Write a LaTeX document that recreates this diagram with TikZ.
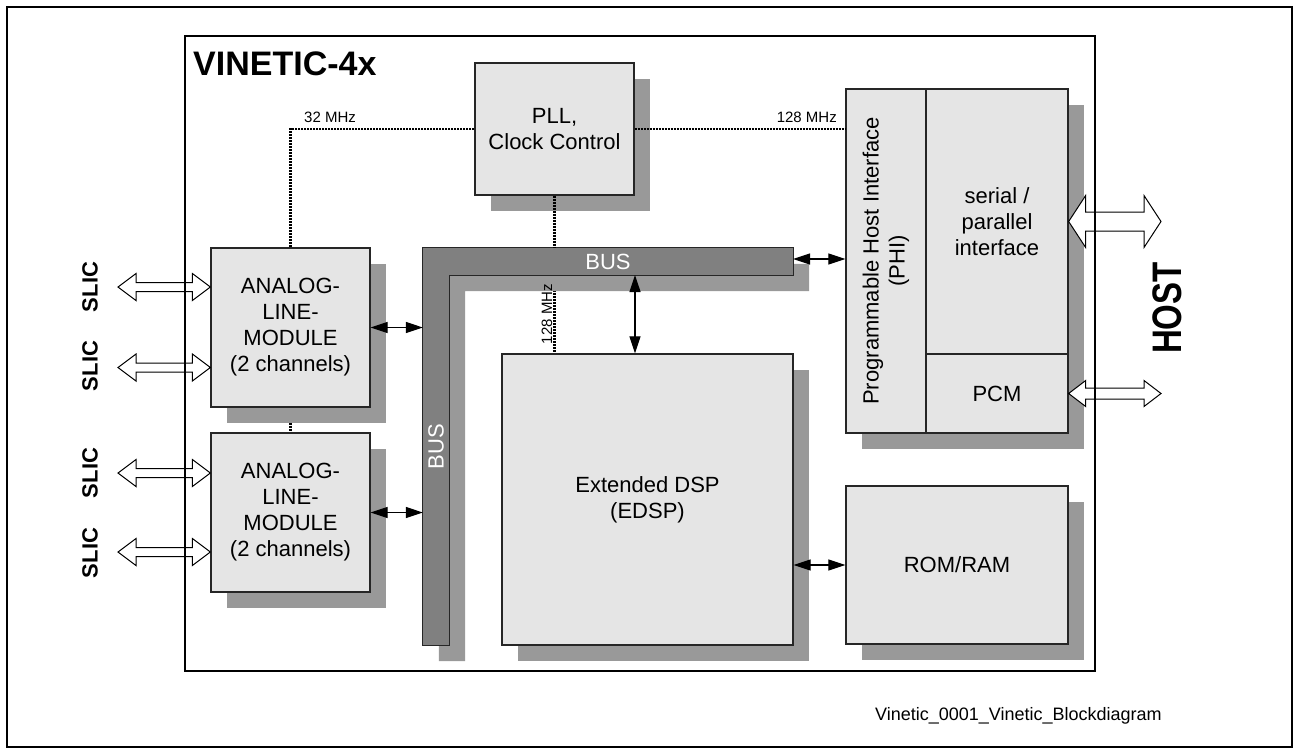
\documentclass[tikz,border=0pt]{standalone}
\usepackage{fontspec}
\setmainfont{Liberation Sans}
\usetikzlibrary{arrows.meta,shadows,calc}
\pgfdeclarelayer{bg}
\pgfsetlayers{bg,main}
\newcommand\fatarrow[5]{%
  \draw[fatarr] let \p1=(#1), \p2=(#2) in
   (\x1,\y1) -- (\x1+#5pt,\y1+#3pt) -- (\x1+#5pt,\y1+#4pt) -- (\x2-#5pt,\y2+#4pt) -- (\x2-#5pt,\y2+#3pt) -- (\x2,\y2)
   -- (\x2-#5pt,\y2-#3pt) -- (\x2-#5pt,\y2-#4pt) -- (\x1+#5pt,\y1-#4pt) -- (\x1+#5pt,\y1-#3pt) -- cycle;}
\begin{document}
\begin{tikzpicture}[x=1pt,y=-1pt,
  blk/.style={draw=black!85, line width=1.3pt, fill=black!10, inner sep=0pt, align=center,
    font=\fontsize{22}{26}\selectfont},
  shad/.style={drop shadow={shadow xshift=16pt, shadow yshift=-16pt, fill=black!40, opacity=1}},
  clk/.style={line width=2.4pt, dash pattern=on 2pt off 1pt},
  sarr/.style={{Triangle[length=17pt,width=11pt]}-{Triangle[length=17pt,width=11pt]}, line width=1.2pt},
  fatarr/.style={draw=black, fill=white, line width=1pt, line join=miter},
  small/.style={font=\fontsize{15}{18}\selectfont, inner sep=0pt},
  slic/.style={font=\bfseries\fontsize{22}{26}\selectfont, rotate=90, inner sep=0pt},
  bustext/.style={text=white, font=\fontsize{22}{26}\selectfont, inner sep=0pt}
]
\useasboundingbox (0,0) rectangle (1299,755);

% bus (invisible name nodes)
\node[inner sep=0pt, minimum width=370pt, minimum height=27pt] (bush) at (608,261.5) {};
\node[inner sep=0pt, minimum width=26pt, minimum height=397pt] (busv) at (436,446.5) {};
\fill[black!40, transform canvas={xshift=16pt, yshift=-16pt}] (bush.north west) -- (bush.north east) -- (bush.south east)
  -- (bush.south -| busv.east) -- (busv.south east) -- (busv.south west) -- cycle;
\draw[fill=black!50, draw=black!85, line width=1.3pt] (bush.north west) -- (bush.north east) -- (bush.south east)
  -- (bush.south -| busv.east) -- (busv.south east) -- (busv.south west) -- cycle;
\node[bustext] at (bush) {BUS};
\node[bustext, rotate=90] at (busv) {BUS};

% blocks
\node[blk, shad, minimum width=159pt, minimum height=132pt] (pll) at (554.5,129) {PLL,\\Clock Control};
\node[blk, shad, minimum width=159pt, minimum height=159pt] (alm1) at (290.5,327.5) {ANALOG-\\LINE-\\MODULE\\(2 channels)};
\node[blk, shad, minimum width=159pt, minimum height=159pt] (alm2) at (290.5,512.5) {ANALOG-\\LINE-\\MODULE\\(2 channels)};
\node[blk, shad, minimum width=291pt, minimum height=291pt] (edsp) at (647.5,499.5) {Extended DSP\\(EDSP)};
\node[blk, shad, minimum width=222pt, minimum height=158pt] (rom) at (957,565) {ROM/RAM};
\node[blk, shad, minimum width=222pt, minimum height=344pt] (phiall) at (957,261) {};
\node[blk, minimum width=80pt, minimum height=344pt] (phi) at (886,261) {};
\node[align=center, rotate=90, inner sep=0pt, font=\fontsize{22}{26}\selectfont] at (phi) {Programmable Host Interface\\(PHI)};
\node[blk, minimum width=142pt, minimum height=265pt] (sp) at (997,221.5) {serial /\\parallel\\interface};
\node[blk, minimum width=142pt, minimum height=79pt] (pcm) at (997,393.5) {PCM};

% clock lines
\begin{pgfonlayer}{bg}
\draw[clk] (alm1.south) -- (alm2.north);
\draw[clk] (bush.south -| pll.south) -- (edsp.north -| pll.south);
\end{pgfonlayer}
\draw[clk] (pll.west) -| (alm1.north);
\draw[clk] (pll.east) -- (pll.east -| phi.west);
\draw[clk] (pll.south) -- (bush.north -| pll.south);
\node[small, anchor=base west] at (304,122) {32 MHz};
\node[small, anchor=base east] at (837,122) {128 MHz};
\node[small, anchor=base, rotate=90] at (552,314) {128 MHz};

% data arrows
\draw[sarr] (alm1.east) -- (alm1.east -| busv.west);
\draw[sarr] (alm2.east) -- (alm2.east -| busv.west);
\coordinate (be) at (635,275);
\draw[sarr] (be) -- (be |- edsp.north);
\coordinate (bp) at (793,259);
\draw[sarr] (bp) -- (bp -| phi.west);
\draw[sarr] (rom.west -| edsp.east) -- (rom.west);

% fat arrows
\coordinate (s1) at (118,287);
\coordinate (s2) at (118,367.5);
\coordinate (s3) at (118,473);
\coordinate (s4) at (118,552);
\fatarrow{s1}{alm1.west |- s1}{13.5}{4.5}{18}
\fatarrow{s2}{alm1.west |- s2}{13.5}{4.5}{18}
\fatarrow{s3}{alm2.west |- s3}{13.5}{4.5}{18}
\fatarrow{s4}{alm2.west |- s4}{13.5}{4.5}{18}
\coordinate (h1) at (1161,221.5);
\fatarrow{sp.east}{h1}{26}{9.5}{17}
\coordinate (p1) at (1161,393.5);
\fatarrow{pcm.east}{p1}{13}{5.5}{17}

% labels
\node[slic] at (90,287) {SLIC};
\node[slic] at (90,366) {SLIC};
\node[slic] at (90,473) {SLIC};
\node[slic] at (90,553) {SLIC};
\node[rotate=90, inner sep=0pt, font=\bfseries\fontsize{33}{36}\selectfont] at (1167,308) {\scalebox{1}[1.25]{HOST}};
\node[anchor=base west, inner sep=0pt, font=\bfseries\fontsize{34}{38}\selectfont] at (193,75) {VINETIC-4x};
\node[anchor=base west, inner sep=0pt, font=\fontsize{18}{22}\selectfont] at (875,720) {Vinetic\_0001\_Vinetic\_Blockdiagram};

% frames
\draw[line width=1.2pt] (185,36) rectangle (1095,671);
\draw[line width=2pt] (7,7) rectangle (1292,747);
\end{tikzpicture}
\end{document}
